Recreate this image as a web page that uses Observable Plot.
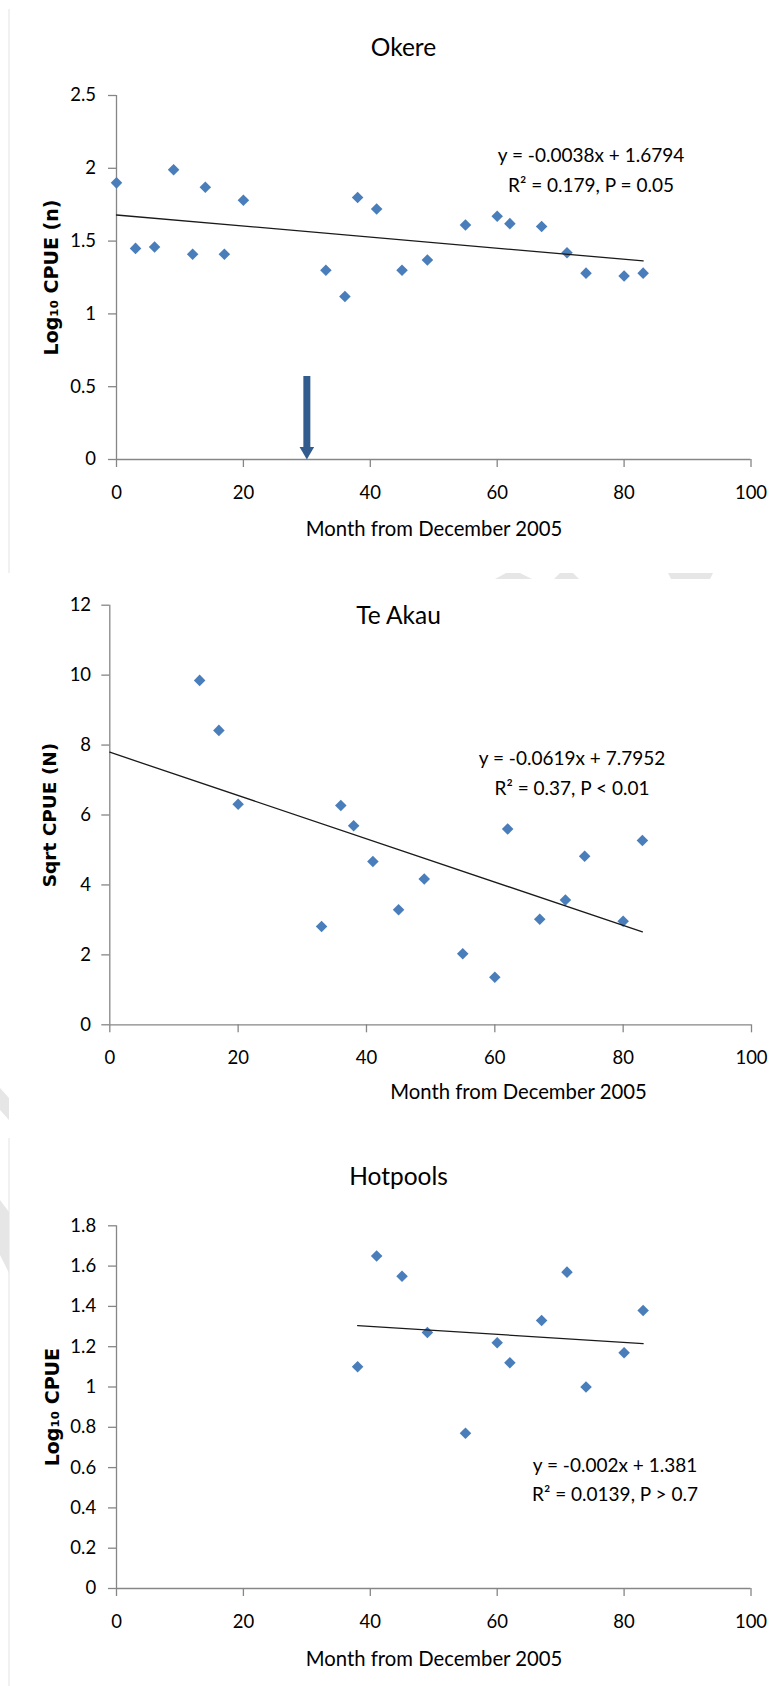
<!DOCTYPE html>
<html>
<head>
<meta charset="utf-8">
<script src="https://cdn.jsdelivr.net/npm/d3@7"></script>
<script src="https://cdn.jsdelivr.net/npm/@observablehq/plot@0.6"></script>
<style>
  html, body { margin: 0; padding: 0; background: #fff; }
  #page { position: relative; width: 773px; height: 1686px; overflow: hidden; background: #fff; }
  .panel { position: absolute; left: 0; }
  #deco { position: absolute; left: 0; top: 0; }
</style>
</head>
<body>
<div id="page">
  <svg id="deco" width="773" height="1686"></svg>
</div>
<script>
// ---------------- DATA ----------------
const xTicks = [0, 20, 40, 60, 80, 100];

// Okere
const okereMonths = [0, 3, 6, 9, 12, 14, 17, 20, 33, 36, 38, 41, 45, 49, 55, 60, 62, 67, 71, 74, 80, 83];
const okereCPUE   = [1.90, 1.45, 1.46, 1.99, 1.41, 1.87, 1.41, 1.78, 1.30, 1.12, 1.80, 1.72, 1.30, 1.37, 1.61, 1.67, 1.62, 1.60, 1.42, 1.28, 1.26, 1.28];
const okereYTicks = [0, 0.5, 1, 1.5, 2, 2.5];
const okereTrend  = {slope: -0.0038, intercept: 1.6794, from: 0, to: 83};
const okereArrow  = {month: 30, from: 0.57, to: 0};
const okereEq     = ["y = -0.0038x + 1.6794", "R² = 0.179, P = 0.05"];

// Te Akau
const teAkauMonths = [14, 17, 20, 33, 36, 38, 41, 45, 49, 55, 60, 62, 67, 71, 74, 80, 83];
const teAkauCPUE   = [9.85, 8.42, 6.31, 2.81, 6.27, 5.69, 4.67, 3.29, 4.17, 2.03, 1.36, 5.60, 3.02, 3.57, 4.82, 2.96, 5.27];
const teAkauYTicks = [0, 2, 4, 6, 8, 10, 12];
const teAkauTrend  = {slope: -0.0619, intercept: 7.7952, from: 0, to: 83};
const teAkauEq     = ["y = -0.0619x + 7.7952", "R² = 0.37, P < 0.01"];

// Hotpools
const hotMonths = [38, 41, 45, 49, 55, 60, 62, 67, 71, 74, 80, 83];
const hotCPUE   = [1.10, 1.65, 1.55, 1.27, 0.77, 1.22, 1.12, 1.33, 1.57, 1.00, 1.17, 1.38];
const hotYTicks = [0, 0.2, 0.4, 0.6, 0.8, 1, 1.2, 1.4, 1.6, 1.8];
const hotTrend  = {slope: -0.002, intercept: 1.381, from: 38, to: 83};
const hotEq     = ["y = -0.002x + 1.381", "R² = 0.0139, P > 0.7"];

const xLabel = "Month from December 2005";

// ---------------- STYLE / LAYOUT ----------------
const BLUE = "#4A7EBB";
const AXIS = "#868686";
const TEXT = "#000";
const ARROW = "#335C8E";
const SANS = "Lato, 'Open Sans', sans-serif";
const BOLD = "'DejaVu Sans', Verdana, sans-serif";
const EQ_FS = 19;

function trendLine(t) {
  return [t.from, t.to].map(m => ({month: m, value: t.intercept + t.slope * m}));
}
function zipRows(months, values) {
  return months.map((m, i) => ({month: m, value: values[i]}));
}

function makePanel(cfg) {
  const L = cfg.layout;
  const rows = zipRows(cfg.months, cfg.values);
  const marks = [
    Plot.ruleX([0], {stroke: AXIS, strokeWidth: 1.3}),
    Plot.ruleY([0], {stroke: AXIS, strokeWidth: 1.3}),
    Plot.axisX({ticks: xTicks, tickFormat: d => String(d), tickSize: 8, tickPadding: 18,
      stroke: AXIS, strokeWidth: 1.3, fill: TEXT, fontSize: 18.5, fontFamily: SANS, label: null}),
    Plot.axisY({ticks: cfg.yTicks, tickFormat: d => String(d), tickSize: 8, tickPadding: L.ytp,
      stroke: AXIS, strokeWidth: 1.3, fill: TEXT, fontSize: 18.5, fontFamily: SANS, label: null}),
  ];
  if (cfg.arrow) {
    const a = cfg.arrow;
    marks.push(Plot.ruleX([a], {x: "month", y1: "from", y2: "to", stroke: ARROW, strokeWidth: 7, insetBottom: 9}));
    marks.push(Plot.dot([a], {x: "month", y: "to", symbol: "triangle", rotate: 180, r: 5.4, fill: ARROW, dy: -8.4}));
  }
  marks.push(
    Plot.dot(rows, {x: "month", y: "value", symbol: "diamond2", r: 5.2, fill: BLUE}),
    Plot.line(trendLine(cfg.trend), {x: "month", y: "value", stroke: "#1a1a1a", strokeWidth: 1.3}),
    Plot.text([cfg.title], {frameAnchor: "top-left", dx: L.titleX - L.ml, dy: L.titleY - L.mt,
      text: d => d, fontSize: 24.5, fontFamily: SANS, fill: TEXT, textAnchor: "middle", lineAnchor: "middle"}),
    Plot.text([xLabel], {frameAnchor: "bottom-left", dx: L.xlabX - L.ml, dy: L.xlabDy,
      text: d => d, fontSize: 20.3, fontFamily: SANS, fill: TEXT, textAnchor: "middle", lineAnchor: "middle"}),
    Plot.text([cfg.yLabel], {frameAnchor: "left", dx: L.ylabDx, text: d => d, rotate: -90,
      fontSize: L.ylabFs, fontWeight: "bold", fontFamily: BOLD, fill: TEXT, textAnchor: "middle", lineAnchor: "middle"})
  );
  cfg.eq.forEach((line, i) => {
    marks.push(Plot.text([line], {frameAnchor: "top-left", dx: L.eqX - L.ml, dy: L.eqY[i] - 0.32 * EQ_FS - L.mt,
      text: d => d, fontSize: EQ_FS, fontFamily: SANS, fill: TEXT, textAnchor: "middle", lineAnchor: "middle"}));
  });
  const svg = Plot.plot({
    width: 773, height: L.height,
    marginLeft: L.ml, marginRight: L.mr, marginTop: L.mt, marginBottom: L.mb,
    x: {domain: [0, 100]},
    y: {domain: cfg.yDomain},
    style: {background: "transparent", overflow: "visible", fontFamily: SANS},
    marks
  });
  const div = document.createElement("div");
  div.className = "panel";
  div.style.top = L.top + "px";
  div.appendChild(svg);
  document.getElementById("page").appendChild(div);
}

makePanel({
  title: "Okere", months: okereMonths, values: okereCPUE, yTicks: okereYTicks, yDomain: [0, 2.5],
  trend: okereTrend, arrow: okereArrow, eq: okereEq, yLabel: "Log₁₀ CPUE (n)",
  layout: {top: 0, height: 570, ml: 116, mr: 22.5, mt: 95, mb: 111, ytp: 12.5, ylabFs: 19,
    titleX: 403, titleY: 48, xlabX: 433.5, xlabDy: 70, ylabDx: -65, eqX: 590.5, eqY: [161.7, 191.7]}
});
makePanel({
  title: "Te Akau", months: teAkauMonths, values: teAkauCPUE, yTicks: teAkauYTicks, yDomain: [0, 12],
  trend: teAkauTrend, eq: teAkauEq, yLabel: "Sqrt CPUE (N)",
  layout: {top: 570, height: 560, ml: 109.3, mr: 22, mt: 34.7, mb: 105.7, ytp: 10.7, ylabFs: 18.5,
    titleX: 398, titleY: 45.3, xlabX: 518, xlabDy: 67.7, ylabDx: -60, eqX: 571.5, eqY: [194.3, 224]}
});
makePanel({
  title: "Hotpools", months: hotMonths, values: hotCPUE, yTicks: hotYTicks, yDomain: [0, 1.8],
  trend: hotTrend, eq: hotEq, yLabel: "Log₁₀ CPUE",
  layout: {top: 1130, height: 556, ml: 116, mr: 22.5, mt: 95.3, mb: 98, ytp: 12.3, ylabFs: 19,
    titleX: 398, titleY: 47, xlabX: 433.5, xlabDy: 70.6, ylabDx: -64, eqX: 614.5, eqY: [341, 370.7]}
});

// faint page decorations (panel border remnants and watermark fragments)
const deco = d3.select("#deco");
deco.append("line").attr("x1", 9).attr("x2", 9).attr("y1", 9).attr("y2", 573).attr("stroke", "#ececec").attr("stroke-width", 1.5);
deco.append("line").attr("x1", 9).attr("x2", 9).attr("y1", 1138).attr("y2", 1686).attr("stroke", "#ececec").attr("stroke-width", 1.5);
[[[495, 579], [506, 573], [520, 573], [532, 579]],
 [[554, 579], [560, 573], [573, 573], [579, 579]],
 [[668, 573], [713, 573], [710, 579], [671, 579]],
 [[0, 1088], [9, 1098], [9, 1120], [0, 1110]],
 [[0, 1200], [9, 1212], [9, 1273], [0, 1255]]].forEach(p => {
  deco.append("polygon").attr("points", p.map(q => q.join(",")).join(" ")).attr("fill", "#e6e6e6");
});
</script>
</body>
</html>
